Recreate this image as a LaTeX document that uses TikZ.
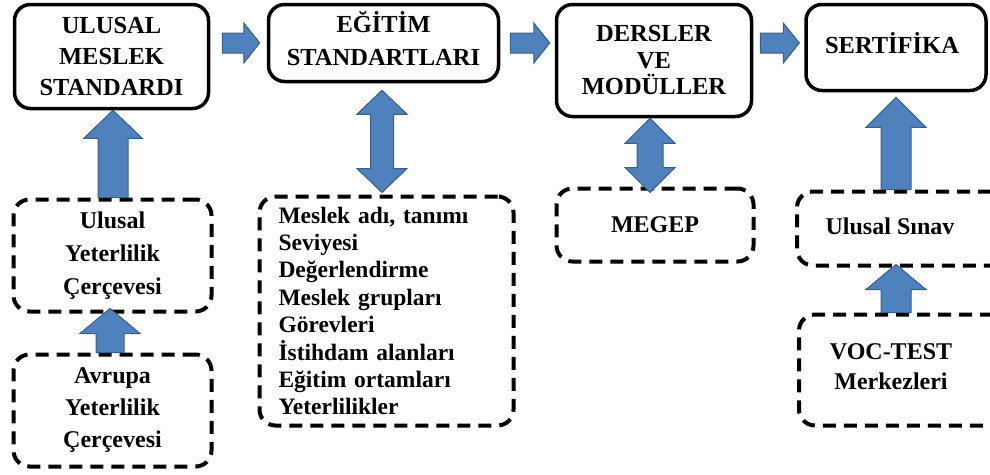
\documentclass[tikz,border=0pt]{standalone}
\usepackage{fontspec}
\setmainfont{Liberation Serif}
\usetikzlibrary{calc}
\definecolor{arrfill}{RGB}{79,129,189}
\definecolor{arrdraw}{RGB}{56,93,138}
\begin{document}
\begin{tikzpicture}[x=1pt,y=1pt,
  solidbox/.style={draw=black, line width=3.5pt, rounded corners=16pt, inner sep=0pt, align=center},
  dashbox/.style={draw=black, line width=4pt, dash pattern=on 13pt off 8pt, rounded corners=16pt, inner sep=0pt, align=center},
  tfont/.style={font=\fontsize{24.5}{#1}\selectfont\bfseries},
  bfont/.style={font=\fontsize{24}{#1}\selectfont\bfseries},
  fatarrow/.style={fill=arrfill, draw=arrdraw, line width=1pt},
  fatup/.style n args={3}{to path={let \p1=(\tikztostart), \p2=(\tikztotarget) in
    (\x1-#1pt,\y1) -- (\x1-#1pt,\y2-#3pt) -- (\x1-#2pt,\y2-#3pt) -- (\x1,\y2) -- (\x1+#2pt,\y2-#3pt) -- (\x1+#1pt,\y2-#3pt) -- (\x1+#1pt,\y1) -- cycle}},
  fatright/.style n args={3}{to path={let \p1=(\tikztostart), \p2=(\tikztotarget) in
    (\x1,\y1+#1pt) -- (\x2-#3pt,\y1+#1pt) -- (\x2-#3pt,\y1+#2pt) -- (\x2,\y1) -- (\x2-#3pt,\y1-#2pt) -- (\x2-#3pt,\y1-#1pt) -- (\x1,\y1-#1pt) -- cycle}},
  fatdouble/.style n args={3}{to path={let \p1=(\tikztostart), \p2=(\tikztotarget) in
    (\x1,\y1) -- (\x1+#2pt,\y1-#3pt) -- (\x1+#1pt,\y1-#3pt) -- (\x1+#1pt,\y2+#3pt) -- (\x1+#2pt,\y2+#3pt) -- (\x1,\y2) -- (\x1-#2pt,\y2+#3pt) -- (\x1-#1pt,\y2+#3pt) -- (\x1-#1pt,\y1-#3pt) -- (\x1-#2pt,\y1-#3pt) -- cycle}}
]
\useasboundingbox (0,0) rectangle (990,-474);
\clip (0,0) rectangle (990,-474);

% solid boxes
\node[solidbox, tfont=31, minimum width=194, minimum height=104] (b1) at (111.5,-56.5) {ULUSAL\\MESLEK\\STANDARDI};
\node[solidbox, minimum width=230, minimum height=77] (b2) at (383.5,-43) {};
\node[tfont=33, align=center] (b2t) at ($(b2.center)+(0,4.5)$) {EĞİTİM\\STANDARTLARI};
\node[solidbox, tfont=26.5, minimum width=195, minimum height=112] (b3) at (654,-60.5) {DERSLER\\VE\\MODÜLLER};
\node[solidbox, minimum width=180, minimum height=86] (b4) at (896,-47.5) {};
\node[tfont=26] (b4t) at ($(b4.center)+(-4,4.5)$) {SERTİFİKA};

% dashed boxes
\node[dashbox, bfont=33, minimum width=198, minimum height=112] (uyc) at (112.5,-255.5) {Ulusal\\Yeterlilik\\Çerçevesi};
\node[dashbox, bfont=32, minimum width=198, minimum height=112] (ayc) at (112.5,-410.5) {Avrupa\\Yeterlilik\\Çerçevesi};
\node[dashbox, font=\fontsize{23.5}{27.4}\selectfont\bfseries, minimum width=254, minimum height=229, text width=216pt, inner xsep=19pt, align=left] (msl) at (386.5,-311)
  {Meslek adı, tanımı\\Seviyesi\\Değerlendirme\\Meslek grupları\\Görevleri\\İstihdam alanları\\Eğitim ortamları\\Yeterlilikler};
\node[dashbox, bfont=26, minimum width=197, minimum height=73] (megep) at (655,-225) {MEGEP};
\node[dashbox, minimum width=210, minimum height=74] (usn) at (902,-228.5) {};
\node[bfont=26] (usnt) at ($(usn.west)+(95,2)$) {Ulusal Sınav};
\node[dashbox, minimum width=210, minimum height=111] (voc) at (904,-370) {};
\node[bfont=30, align=center] (voct) at ($(voc.west)+(94,3)$) {VOC-TEST\\Merkezleri};

% horizontal arrows
\draw[fatarrow] ($(b1.east |- b2.west)+(12,0)$) to[fatright={10}{20}{16}] ($(b2.west)+(-7,0)$);
\draw[fatarrow] ($(b2.east)+(10,0)$) to[fatright={10}{20}{16}] ($(b3.west |- b2.west)+(-5,0)$);
\draw[fatarrow] ($(b3.east |- b2.west)+(7,0)$) to[fatright={10}{20}{16}] ($(b4.west |- b2.west)+(-5,0)$);

% vertical arrows
\draw[fatarrow] ($(uyc.north)+(0.5,0)$) to[fatup={15}{29}{28}] (b1.south);
\draw[fatarrow] ($(ayc.north)+(-2.5,0)$) to[fatup={14}{30}{25}] ($(uyc.south)+(0,5)$);
\draw[fatarrow] ($(b2.south)+(-1.5,-7)$) to[fatdouble={11.5}{25}{24}] ($(msl.north)+(0,2)$);
\draw[fatarrow] ($(b3.south)+(-4,0)$) to[fatdouble={13}{25}{25}] ($(megep.north)+(0,-6)$);
\draw[fatarrow] (usn.north -| b4.south) to[fatup={15}{30}{30}] ($(b4.south)+(0,-5)$);
\draw[fatarrow] (voc.north -| b4.south) to[fatup={15}{30}{25}] ($(usn.south -| b4.south)+(0,3)$);
\end{tikzpicture}
\end{document}
